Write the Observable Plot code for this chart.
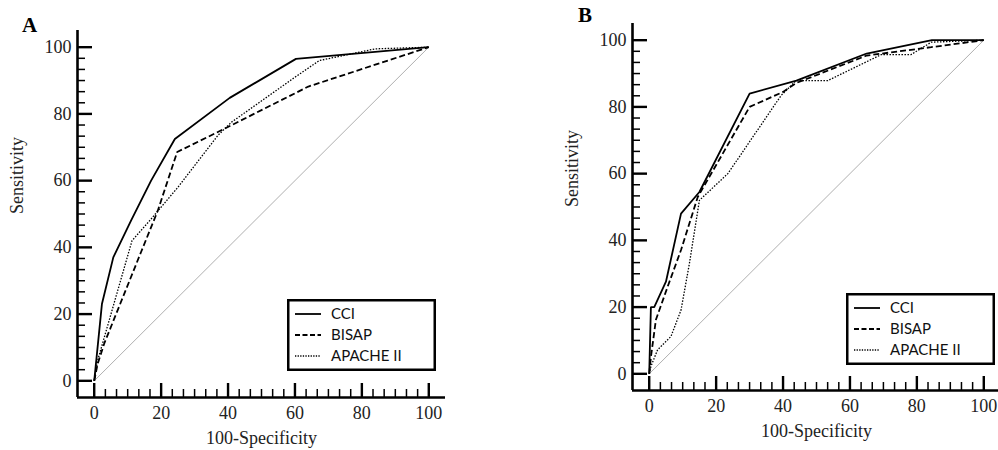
<!DOCTYPE html>
<html><head><meta charset="utf-8">
<script src="https://cdn.jsdelivr.net/npm/d3@7"></script>
<script src="https://cdn.jsdelivr.net/npm/@observablehq/plot@0.6"></script>
<style>
body{margin:0;background:#fff;overflow:hidden}
#wrap{position:relative;width:998px;height:450px;overflow:hidden;background:#fff}
.panel{position:absolute;top:0}
.letter{position:absolute;font:bold 21px "Liberation Serif","Times New Roman",serif;color:#000}
.legend{position:absolute}
</style></head><body><div id="wrap"></div>
<script>
// ---- data ----
const seriesNames = ["CCI", "BISAP", "APACHE II"];
const majorTicks = [0, 20, 40, 60, 80, 100];
const minorStep = 20 / 6;
const diagX = [0, 100];
const diagY = [0, 100];

// Panel A
const aCciX = [0, 2.3, 5.7, 11, 17, 24.1, 40.5, 60.3, 100];
const aCciY = [0, 23, 37, 48, 60, 72.5, 84.8, 96.5, 100];
const aBisapX = [0, 1, 3, 14, 19, 24.8, 36, 41, 64, 100];
const aBisapY = [0, 5, 11.2, 38.6, 51, 68.6, 74.1, 76.6, 88.2, 100];
const aApacheX = [0, 1, 3, 11.3, 17, 25, 37, 41, 60, 67.3, 84, 100];
const aApacheY = [0, 6, 13, 42, 48.5, 58, 73.6, 77.5, 91, 96, 99.5, 100];

// Panel B
const bCciX = [0, 0.5, 1.5, 5, 9.5, 15, 30, 44, 65, 84.5, 100];
const bCciY = [0, 20, 20, 27.6, 48, 54.5, 84, 87.9, 96, 100, 100];
const bBisapX = [0, 0.5, 2, 5.5, 9.5, 14.5, 30, 40, 44, 65, 84.3, 100];
const bBisapY = [0, 5, 16.2, 26.1, 37.1, 53, 80, 84.5, 87.2, 95.4, 97.9, 100];
const bApacheX = [0, 0.5, 2.5, 6.5, 9.5, 12, 15, 23.5, 39.4, 43.9, 53.4, 69.4, 78.3, 84.3, 100];
const bApacheY = [0, 2.2, 7.2, 11.2, 19.1, 33, 52, 60, 83.4, 87.9, 87.9, 95.7, 95.7, 99.4, 100];

// ---- styles ----
const lineStyles = [
  {w: 1.8, dash: null},
  {w: 1.8, dash: "6,3"},
  {w: 1.3, dash: "1.5,1.5"}
];
const minorTicks = d3.range(0, 100 + 1e-9, minorStep).filter(v => Math.abs(v / 20 - Math.round(v / 20)) > 1e-6);

function rowsOf(xs, ys) { return xs.map((x, i) => ({x, y: ys[i]})); }

function panel(curves, o) {
  const frameW = o.width - o.mL - o.mR;
  const frameH = 450 - o.mT - o.mB;
  return Plot.plot({
    width: o.width, height: 450,
    marginLeft: o.mL, marginRight: o.mR, marginTop: o.mT, marginBottom: o.mB,
    style: {fontFamily: '"Liberation Serif","Times New Roman",serif', fontSize: "18px", color: "#222", background: "transparent", overflow: "visible"},
    x: {domain: [-5, 105]},
    y: {domain: [-5, 105]},
    marks: [
      Plot.line(rowsOf(diagX, diagY), {x: "x", y: "y", stroke: "#9a9a9a", strokeWidth: 0.8}),
      ...curves.map((c, i) => Plot.line(rowsOf(c[0], c[1]), {
        x: "x", y: "y", stroke: "#000", strokeWidth: lineStyles[i].w,
        strokeDasharray: lineStyles[i].dash, strokeLinejoin: "miter", strokeLinecap: "butt"
      })),
      Plot.ruleX([-5], {stroke: "#000", strokeWidth: 2.6}),
      Plot.ruleY([-5], {stroke: "#000", strokeWidth: 2.6}),
      Plot.tickY(majorTicks, {y: d => d, insetRight: frameW - 15, stroke: "#000", strokeWidth: 2.4}),
      Plot.tickY(minorTicks, {y: d => d, insetRight: frameW - 8, stroke: "#000", strokeWidth: 1.5}),
      Plot.tickX(majorTicks, {x: d => d, insetTop: frameH - 14, stroke: "#000", strokeWidth: 2.4}),
      Plot.tickX(minorTicks, {x: d => d, insetTop: frameH - 8, stroke: "#000", strokeWidth: 1.5}),
      Plot.axisY(majorTicks, {tickSize: 0, tickPadding: 6, label: null, fill: "#222"}),
      Plot.axisX(majorTicks, {tickSize: 0, tickPadding: 9, label: null, fill: "#222"}),
      Plot.text(["100-Specificity"], {frameAnchor: "bottom", lineAnchor: "top", dy: 34, text: d => d, fill: "#222"}),
      Plot.text(["Sensitivity"], {frameAnchor: "left", rotate: -90, dx: -60, text: d => d, fill: "#222"})
    ]
  });
}

function legend(left, top) {
  const W = 149, H = 72;
  const svg = d3.create("svg").attr("width", W).attr("height", H).attr("class", "legend")
    .style("left", left + "px").style("top", top + "px");
  svg.append("rect").attr("x", 1.25).attr("y", 1.25).attr("width", W - 2.5).attr("height", H - 2.5)
    .attr("fill", "#fff").attr("stroke", "#000").attr("stroke-width", 2.5);
  const rowY = [15, 36, 57];
  const legendDash = [null, "5,2.5", "1.3,1.3"];
  seriesNames.forEach((name, i) => {
    svg.append("line").attr("x1", 8).attr("x2", 34).attr("y1", rowY[i]).attr("y2", rowY[i])
      .attr("stroke", "#000").attr("stroke-width", i === 2 ? 1.3 : 1.8)
      .attr("stroke-dasharray", legendDash[i]);
    svg.append("text").attr("x", 44).attr("y", rowY[i]).attr("dy", "0.36em")
      .attr("font-family", 'Lato, "Open Sans", sans-serif').attr("font-size", 15)
      .attr("fill", "#111").text(name);
  });
  return svg.node();
}

const wrap = document.getElementById("wrap");

const A = panel([[aCciX, aCciY], [aBisapX, aBisapY], [aApacheX, aApacheY]],
  {width: 500, mL: 77, mR: 55, mT: 30, mB: 53});
A.classList.add("panel"); A.style.left = "0px";
wrap.appendChild(A);

const B = panel([[bCciX, bCciY], [bBisapX, bBisapY], [bApacheX, bApacheY]],
  {width: 502, mL: 134, mR: 0, mT: 23, mB: 60});
B.classList.add("panel"); B.style.left = "498px";
wrap.appendChild(B);

wrap.appendChild(legend(287, 299));
wrap.appendChild(legend(846, 293));

const la = document.createElement("div"); la.className = "letter"; la.textContent = "A";
la.style.left = "22px"; la.style.top = "13px"; wrap.appendChild(la);
const lb = document.createElement("div"); lb.className = "letter"; lb.textContent = "B";
lb.style.left = "578px"; lb.style.top = "3px"; wrap.appendChild(lb);
</script></body></html>
